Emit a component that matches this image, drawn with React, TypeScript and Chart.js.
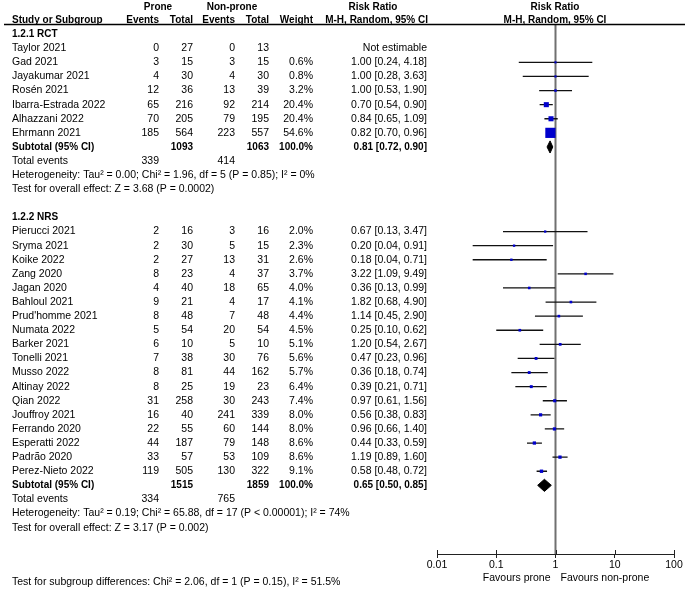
import React, { useEffect, useRef } from 'react';
import { Chart, registerables } from 'chart.js';

Chart.register(...registerables);

// ---------- data ----------
const rctStudies = ['Taylor 2021', 'Gad 2021', 'Jayakumar 2021', 'Rosén 2021', 'Ibarra-Estrada 2022', 'Alhazzani 2022', 'Ehrmann 2021'];
const rctProneEvents = [0, 3, 4, 12, 65, 70, 185];
const rctProneTotal = [27, 15, 30, 36, 216, 205, 564];
const rctNonEvents = [0, 3, 4, 13, 92, 79, 223];
const rctNonTotal = [13, 15, 30, 39, 214, 195, 557];
const rctWeight = [null, 0.6, 0.8, 3.2, 20.4, 20.4, 54.6];
const rctRR = [null, 1.0, 1.0, 1.0, 0.7, 0.84, 0.82];
const rctLo = [null, 0.24, 0.28, 0.53, 0.54, 0.65, 0.7];
const rctHi = [null, 4.18, 3.63, 1.9, 0.9, 1.09, 0.96];
const rctSubtotal = { proneTotal: 1093, nonTotal: 1063, rr: 0.81, lo: 0.72, hi: 0.9, proneEvents: 339, nonEvents: 414 };
const rctHet = 'Heterogeneity: Tau² = 0.00; Chi² = 1.96, df = 5 (P = 0.85); I² = 0%';
const rctTest = 'Test for overall effect: Z = 3.68 (P = 0.0002)';

const nrsStudies = ['Pierucci 2021', 'Sryma 2021', 'Koike 2022', 'Zang 2020', 'Jagan 2020', 'Bahloul 2021', "Prud'homme 2021", 'Numata 2022', 'Barker 2021', 'Tonelli 2021', 'Musso 2022', 'Altinay 2022', 'Qian 2022', 'Jouffroy 2021', 'Ferrando 2020', 'Esperatti 2022', 'Padrão 2020', 'Perez-Nieto 2022'];
const nrsProneEvents = [2, 2, 2, 8, 4, 9, 8, 5, 6, 7, 8, 8, 31, 16, 22, 44, 33, 119];
const nrsProneTotal = [16, 30, 27, 23, 40, 21, 48, 54, 10, 38, 81, 25, 258, 40, 55, 187, 57, 505];
const nrsNonEvents = [3, 5, 13, 4, 18, 4, 7, 20, 5, 30, 44, 19, 30, 241, 60, 79, 53, 130];
const nrsNonTotal = [16, 15, 31, 37, 65, 17, 48, 54, 10, 76, 162, 23, 243, 339, 144, 148, 109, 322];
const nrsWeight = [2.0, 2.3, 2.6, 3.7, 4.0, 4.1, 4.4, 4.5, 5.1, 5.6, 5.7, 6.4, 7.4, 8.0, 8.0, 8.6, 8.6, 9.1];
const nrsRR = [0.67, 0.2, 0.18, 3.22, 0.36, 1.82, 1.14, 0.25, 1.2, 0.47, 0.36, 0.39, 0.97, 0.56, 0.96, 0.44, 1.19, 0.58];
const nrsLo = [0.13, 0.04, 0.04, 1.09, 0.13, 0.68, 0.45, 0.1, 0.54, 0.23, 0.18, 0.21, 0.61, 0.38, 0.66, 0.33, 0.89, 0.48];
const nrsHi = [3.47, 0.91, 0.71, 9.49, 0.99, 4.9, 2.9, 0.62, 2.67, 0.96, 0.74, 0.71, 1.56, 0.83, 1.4, 0.59, 1.6, 0.72];
const nrsSubtotal = { proneTotal: 1515, nonTotal: 1859, rr: 0.65, lo: 0.5, hi: 0.85, proneEvents: 334, nonEvents: 765 };
const nrsHet = 'Heterogeneity: Tau² = 0.19; Chi² = 65.88, df = 17 (P < 0.00001); I² = 74%';
const nrsTest = 'Test for overall effect: Z = 3.17 (P = 0.002)';

const subgroupTest = 'Test for subgroup differences: Chi² = 2.06, df = 1 (P = 0.15), I² = 51.5%';
const xTicks = [0.01, 0.1, 1, 10, 100];

// row layout (row index on y axis)
const RCT_HEAD = 0;
const NRS_HEAD = 13;
const Y_MIN = -0.65;
const Y_MAX = 36.87;

const FONT = '"Liberation Sans", Arial, Helvetica, sans-serif';
const REG = 10.5;
const BOLD = 10;
const BLUE = '#0000CC';

const fmt2 = (v: number) => v.toFixed(2);
const rrText = (rr: number, lo: number, hi: number) => `${fmt2(rr)} [${fmt2(lo)}, ${fmt2(hi)}]`;

type Sec = {
  head: number; title: string; studies: string[]; pe: number[]; pt: number[]; ne: number[]; nt: number[];
  w: (number | null)[]; rr: (number | null)[]; lo: (number | null)[]; hi: (number | null)[];
  sub: typeof rctSubtotal; het: string; test: string;
};

const sections: Sec[] = [
  { head: RCT_HEAD, title: '1.2.1 RCT', studies: rctStudies, pe: rctProneEvents, pt: rctProneTotal, ne: rctNonEvents, nt: rctNonTotal, w: rctWeight, rr: rctRR, lo: rctLo, hi: rctHi, sub: rctSubtotal, het: rctHet, test: rctTest },
  { head: NRS_HEAD, title: '1.2.2 NRS', studies: nrsStudies, pe: nrsProneEvents, pt: nrsProneTotal, ne: nrsNonEvents, nt: nrsNonTotal, w: nrsWeight, rr: nrsRR, lo: nrsLo, hi: nrsHi, sub: nrsSubtotal, het: nrsHet, test: nrsTest },
];

const COL = { name: 12, pe: 159, pt: 193, ne: 235, nt: 269, w: 313, rr: 427 };

const textPlugin = {
  id: 'forestText',
  afterDraw(chart: any) {
    const ctx = chart.ctx as CanvasRenderingContext2D;
    const ys = chart.scales.y;
    const xs = chart.scales.x;
    const Y = (k: number) => ys.getPixelForValue(k);
    const txt = (s: string, x: number, y: number, align: CanvasTextAlign = 'left', bold = false) => {
      ctx.font = `${bold ? 'bold ' : ''}${bold ? BOLD : REG}px ${FONT}`;
      ctx.textAlign = align;
      ctx.fillText(s, x, y);
    };
    ctx.save();
    ctx.fillStyle = '#000';
    ctx.textBaseline = 'middle';

    // headers
    txt('Prone', 158, 7, 'center', true);
    txt('Non-prone', 232, 7, 'center', true);
    txt('Risk Ratio', 373, 7, 'center', true);
    txt('Risk Ratio', 555, 7, 'center', true);
    txt('Study or Subgroup', COL.name, 20, 'left', true);
    txt('Events', COL.pe, 20, 'right', true);
    txt('Total', COL.pt, 20, 'right', true);
    txt('Events', COL.ne, 20, 'right', true);
    txt('Total', COL.nt, 20, 'right', true);
    txt('Weight', COL.w, 20, 'right', true);
    txt('M-H, Random, 95% CI', COL.rr + 1, 20, 'right', true);
    txt('M-H, Random, 95% CI', 555, 20, 'center', true);

    ctx.strokeStyle = '#000';
    ctx.lineWidth = 1.5;
    ctx.beginPath();
    ctx.moveTo(4, 24.5);
    ctx.lineTo(685, 24.5);
    ctx.stroke();

    for (const s of sections) {
      txt(s.title, COL.name, Y(s.head), 'left', true);
      s.studies.forEach((name, i) => {
        const y = Y(s.head + 1 + i);
        txt(name, COL.name, y);
        txt(String(s.pe[i]), COL.pe, y, 'right');
        txt(String(s.pt[i]), COL.pt, y, 'right');
        txt(String(s.ne[i]), COL.ne, y, 'right');
        txt(String(s.nt[i]), COL.nt, y, 'right');
        const w = s.w[i];
        if (w != null) txt(`${w.toFixed(1)}%`, COL.w, y, 'right');
        const rr = s.rr[i], lo = s.lo[i], hi = s.hi[i];
        txt(rr != null && lo != null && hi != null ? rrText(rr, lo, hi) : 'Not estimable', COL.rr, y, 'right');
      });
      const n = s.studies.length;
      const ySub = Y(s.head + 1 + n);
      txt('Subtotal (95% CI)', COL.name, ySub, 'left', true);
      txt(String(s.sub.proneTotal), COL.pt, ySub, 'right', true);
      txt(String(s.sub.nonTotal), COL.nt, ySub, 'right', true);
      txt('100.0%', COL.w, ySub, 'right', true);
      txt(rrText(s.sub.rr, s.sub.lo, s.sub.hi), COL.rr, ySub, 'right', true);
      const yTot = Y(s.head + 2 + n);
      txt('Total events', COL.name, yTot);
      txt(String(s.sub.proneEvents), COL.pe, yTot, 'right');
      txt(String(s.sub.nonEvents), COL.ne, yTot, 'right');
      txt(s.het, COL.name, Y(s.head + 3 + n));
      txt(s.test, COL.name, Y(s.head + 4 + n));
    }

    // upward tick marks crossing the axis
    ctx.strokeStyle = '#222';
    ctx.lineWidth = 1;
    for (const v of xTicks) {
      const x = Math.round(xs.getPixelForValue(v)) + 0.5;
      ctx.beginPath();
      ctx.moveTo(x, xs.top - 4);
      ctx.lineTo(x, xs.top);
      ctx.stroke();
    }

    const xOne = xs.getPixelForValue(1);
    txt('Favours prone', xOne - 5, xs.top + 24, 'right');
    txt('Favours non-prone', xOne + 5, xs.top + 24, 'left');
    txt(subgroupTest, COL.name, 582);
    ctx.restore();
  },
};

function buildDatasets() {
  const boxes: any[] = [];
  const boxSides: number[] = [];
  const ci: any[] = [];
  for (const s of sections) {
    s.studies.forEach((_, i) => {
      const rr = s.rr[i], lo = s.lo[i], hi = s.hi[i], w = s.w[i];
      if (rr == null || lo == null || hi == null || w == null) return;
      const k = s.head + 1 + i;
      boxes.push({ x: rr, y: k });
      boxSides.push(2 + 0.15 * w);
      ci.push({ x: lo, y: k }, { x: hi, y: k }, { x: null, y: null });
    });
  }
  const diamonds = sections.map((s) => {
    const k = s.head + 1 + s.studies.length;
    const h = 0.43;
    return {
      type: 'line',
      data: [
        { x: s.sub.lo, y: k },
        { x: s.sub.rr, y: k - h },
        { x: s.sub.hi, y: k },
        { x: s.sub.rr, y: k + h },
        { x: s.sub.lo, y: k },
      ],
      borderColor: '#000',
      backgroundColor: '#000',
      borderWidth: 1,
      pointRadius: 0,
      tension: 0,
      fill: 'shape',
    };
  });
  return [
    ...diamonds,
    {
      type: 'scatter',
      data: boxes,
      pointStyle: 'rect',
      backgroundColor: BLUE,
      borderColor: BLUE,
      borderWidth: 0,
      pointRadius: (c: any) => (boxSides[c.dataIndex] ?? 2) / Math.SQRT2,
      pointHoverRadius: (c: any) => (boxSides[c.dataIndex] ?? 2) / Math.SQRT2,
    },
    {
      type: 'line',
      data: ci,
      borderColor: '#111',
      borderWidth: 1.3,
      pointRadius: 0,
      spanGaps: false,
      fill: false,
    },
    {
      type: 'line',
      data: [{ x: 1, y: Y_MIN }, { x: 1, y: Y_MAX }],
      borderColor: '#707070',
      borderWidth: 2,
      pointRadius: 0,
      fill: false,
    },
  ];
}

export default function App() {
  const ref = useRef<HTMLCanvasElement | null>(null);
  useEffect(() => {
    document.body.style.margin = '0';
    const canvas = ref.current;
    if (!canvas) return;
    const chart = new Chart(canvas, {
      type: 'scatter',
      data: { datasets: buildDatasets() as any },
      options: {
        responsive: false,
        animation: false,
        devicePixelRatio: 1,
        events: [],
        layout: { padding: { left: 437, right: 11, top: 25, bottom: 0 } },
        plugins: { legend: { display: false }, tooltip: { enabled: false } },
        scales: {
          x: {
            type: 'logarithmic',
            min: 0.01,
            max: 100,
            afterBuildTicks: (scale: any) => {
              scale.ticks = xTicks.map((v) => ({ value: v }));
            },
            afterFit: (scale: any) => {
              scale.height = 40;
            },
            ticks: {
              autoSkip: false,
              maxRotation: 0,
              padding: 1,
              color: '#000',
              font: { family: FONT, size: REG },
              callback: (v: any) => String(v),
            },
            grid: { drawOnChartArea: false, drawTicks: true, tickLength: 4, color: '#222' },
            border: { display: true, color: '#222', width: 1 },
          },
          y: {
            type: 'linear',
            display: false,
            reverse: true,
            min: Y_MIN,
            max: Y_MAX,
          },
        },
      } as any,
      plugins: [textPlugin],
    });
    return () => chart.destroy();
  }, []);
  return (
    <div style={{ position: 'absolute', left: 0, top: 0, width: 685, height: 594, background: '#fff' }}>
      <canvas ref={ref} width={685} height={594} style={{ display: 'block' }} />
    </div>
  );
}
